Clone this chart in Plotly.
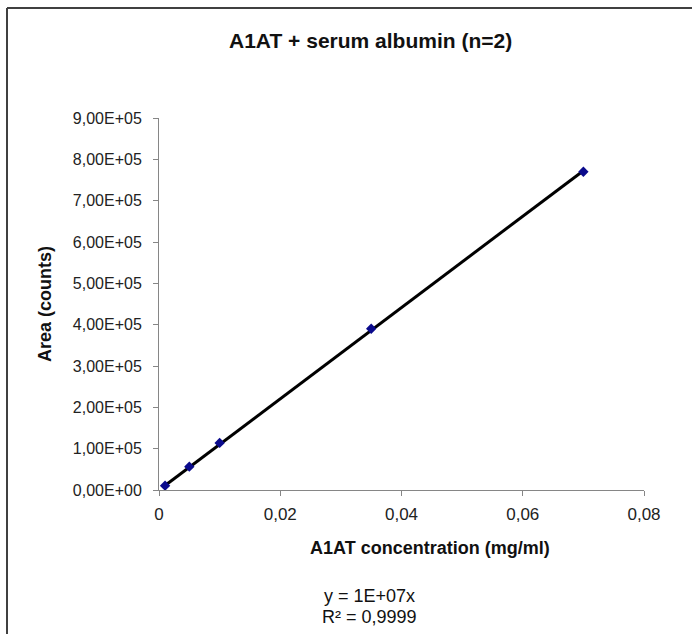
import plotly.graph_objects as go

# Calibration data: A1AT concentration vs peak area
concentration = [0.001, 0.005, 0.01, 0.035, 0.07]
area_counts = [10500, 56500, 114000, 390000, 770000]
r_squared = 0.9999

y_tickvals = [0, 1e5, 2e5, 3e5, 4e5, 5e5, 6e5, 7e5, 8e5, 9e5]
y_ticktext = ["0,00E+00", "1,00E+05", "2,00E+05", "3,00E+05", "4,00E+05",
              "5,00E+05", "6,00E+05", "7,00E+05", "8,00E+05", "9,00E+05"]
x_tickvals = [0, 0.02, 0.04, 0.06, 0.08]
x_ticktext = ["0", "0,02", "0,04", "0,06", "0,08"]

# Linear fit through the origin
sxy = sum(x * y for x, y in zip(concentration, area_counts))
sxx = sum(x * x for x in concentration)
slope = sxy / sxx
fit_x = [min(concentration), max(concentration)]
fit_y = [slope * x for x in fit_x]
eq_text = "y = " + f"{slope:.0E}" + "x"
r2_text = "R² = " + f"{r_squared:.4f}".replace(".", ",")

W, H = 692, 634
L, R, T, B = 159, 48, 118, 144
PW, PH = W - L - R, H - T - B


def px(x):
    return (x - L) / PW


def py(y):
    return 1 - (y - T) / PH


FONT = "Liberation Sans, Arial, sans-serif"

fig = go.Figure()
fig.add_trace(go.Scatter(
    x=fit_x, y=fit_y, mode="lines",
    line=dict(color="black", width=3),
    hoverinfo="skip", showlegend=False,
))
fig.add_trace(go.Scatter(
    x=concentration, y=area_counts, mode="markers",
    marker=dict(symbol="diamond", size=8, color="#0a0a8c"),
    showlegend=False,
))

axis_common = dict(
    showgrid=False, zeroline=False, showline=True,
    linecolor="#868686", linewidth=1,
    ticks="outside", ticklen=5, tickcolor="#868686", tickwidth=1,
    mirror=False,
)
fig.update_xaxes(range=[0, 0.08], tickvals=x_tickvals, ticktext=x_ticktext,
                 ticklabelstandoff=4,
                 tickfont=dict(family=FONT, size=17, color="#222"),
                 **axis_common)
fig.update_yaxes(range=[0, 9e5], tickvals=y_tickvals, ticktext=y_ticktext,
                 ticklabelstandoff=8,
                 tickfont=dict(family=FONT, size=16, color="#222"),
                 **axis_common)

annotations = [
    dict(text="<b>A1AT + serum albumin (n=2)</b>", x=px(370), y=py(41),
         font=dict(size=21)),
    dict(text="<b>A1AT concentration (mg/ml)</b>", x=px(430), y=py(548),
         font=dict(size=18)),
    dict(text="<b>Area (counts)</b>", x=px(45), y=py(304), textangle=-90,
         font=dict(size=18)),
    dict(text=eq_text, x=px(369), y=py(596), font=dict(size=18)),
    dict(text=r2_text, x=px(369), y=py(617), font=dict(size=18)),
]
for a in annotations:
    a.update(xref="paper", yref="paper", showarrow=False,
             xanchor="center", yanchor="middle")
    a["font"].update(family=FONT, color="#111")

shapes = [
    dict(type="line", xref="paper", yref="paper",
         x0=px(7), y0=py(8), x1=px(700), y1=py(8),
         line=dict(color="#404040", width=2)),
    dict(type="line", xref="paper", yref="paper",
         x0=px(7), y0=py(8), x1=px(7), y1=py(640),
         line=dict(color="#404040", width=2)),
]

fig.update_layout(
    width=W, height=H,
    margin=dict(l=L, r=R, t=T, b=B),
    paper_bgcolor="white", plot_bgcolor="white",
    annotations=annotations, shapes=shapes,
    font=dict(family=FONT),
)

fig.write_html("out.html")
